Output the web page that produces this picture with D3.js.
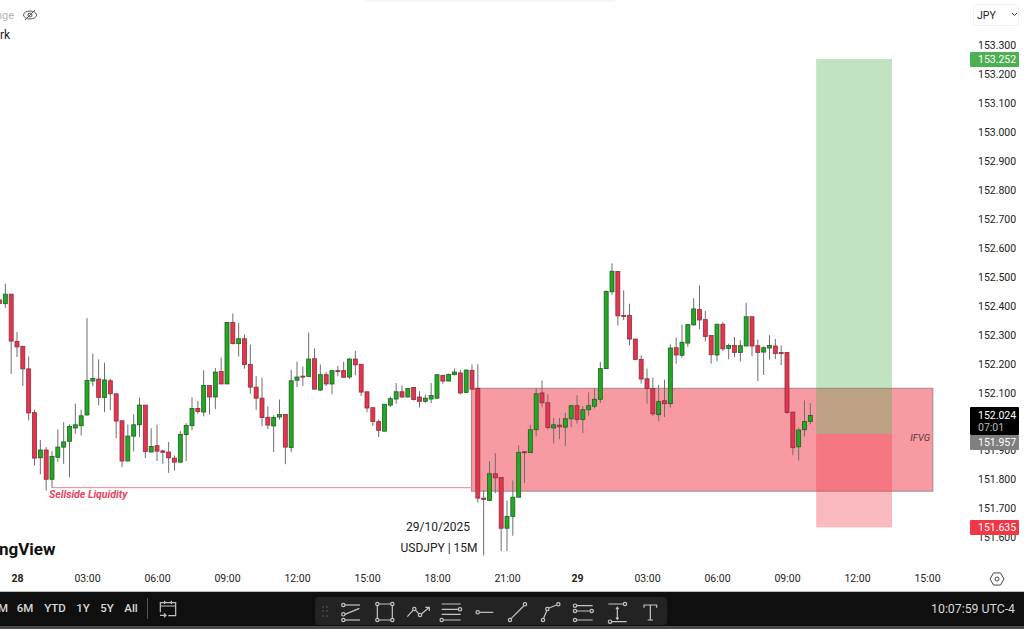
<!DOCTYPE html>
<html lang="en">
<head>
<meta charset="UTF-8">
<title>USDJPY 15M</title>
<script src="https://d3js.org/d3.v7.min.js"></script>
<style>
  html, body { margin: 0; padding: 0; background: #fff; overflow: hidden; }
  text { font-family: Roboto, "Open Sans", sans-serif; }
</style>
</head>
<body>
<div id="chart"></div>
<script>
// Bars start three bars before the "28" tick, one value per 15 minute bar
const firstBar = -3;
const opens = [
  152.420,152.407,152.440,152.277,152.260,152.182,152.031,151.875,151.902,151.801,
  151.877,151.912,151.932,151.978,151.986,152.023,152.140,152.147,152.083,152.141,
  152.096,152.003,151.864,151.950,151.989,152.057,151.895,151.917,151.899,151.895,
  151.874,151.860,151.955,151.986,152.045,152.033,152.125,152.085,152.173,152.130,
  152.342,152.269,152.286,152.197,152.119,152.081,152.015,151.985,152.016,152.025,
  151.911,152.143,152.157,152.156,152.217,152.109,152.162,152.130,152.176,152.176,
  152.154,152.216,152.198,152.103,152.048,152.000,151.967,152.057,152.078,152.103,
  152.085,152.118,152.085,152.070,152.078,152.081,152.160,152.140,152.162,152.168,
  152.101,152.177,152.115,151.736,151.728,151.820,151.807,151.632,151.673,151.739,
  151.896,151.893,151.972,152.099,152.065,151.978,151.988,151.981,152.010,152.055,
  152.007,152.041,152.053,152.077,152.183,152.448,152.518,152.366,152.366,152.285,
  152.215,152.148,152.114,152.024,152.072,152.062,152.255,152.229,152.271,152.334,
  152.387,152.352,152.297,152.230,152.336,152.253,152.263,152.239,152.261,152.362,
  152.262,152.240,152.254,152.261,152.239,152.239,152.033,151.913,151.972,152.001
];
const closes = [
  152.408,152.440,152.278,152.258,152.182,152.030,151.874,151.902,151.801,151.880,
  151.912,151.930,151.983,151.989,152.020,152.142,152.149,152.083,152.144,152.096,
  152.002,151.864,151.950,151.989,152.057,151.897,151.914,151.898,151.894,151.875,
  151.860,151.956,151.987,152.045,152.035,152.125,152.085,152.171,152.130,152.342,
  152.269,152.286,152.197,152.119,152.081,152.014,151.988,152.014,152.025,151.912,
  152.141,152.154,152.154,152.216,152.112,152.162,152.130,152.176,152.174,152.153,
  152.216,152.196,152.102,152.047,152.000,151.970,152.060,152.079,152.103,152.085,
  152.114,152.076,152.070,152.081,152.090,152.162,152.140,152.163,152.171,152.099,
  152.178,152.112,151.736,151.731,151.820,151.806,151.632,151.673,151.739,151.894,
  151.894,151.972,152.096,152.065,151.980,151.989,151.982,152.010,152.055,152.007,
  152.041,152.055,152.077,152.183,152.449,152.519,152.365,152.364,152.285,152.215,
  152.147,152.114,152.027,152.069,152.062,152.254,152.230,152.274,152.335,152.389,
  152.351,152.294,152.231,152.336,152.251,152.263,152.239,152.262,152.362,152.261,
  152.239,152.255,152.263,152.235,152.235,152.032,151.910,151.971,152.000,152.021
];
const highs = [
  152.425,152.476,152.440,152.309,152.260,152.225,152.041,151.937,151.912,151.898,
  151.973,151.998,151.990,152.062,152.041,152.357,152.235,152.215,152.203,152.148,
  152.096,152.003,151.990,152.025,152.083,152.057,151.977,151.989,151.903,151.930,
  151.883,151.967,151.995,152.084,152.071,152.177,152.125,152.185,152.221,152.344,
  152.373,152.340,152.301,152.266,152.157,152.152,152.053,152.022,152.076,152.025,
  152.179,152.207,152.191,152.307,152.253,152.197,152.171,152.176,152.193,152.207,
  152.219,152.244,152.198,152.103,152.048,152.007,152.060,152.087,152.133,152.125,
  152.114,152.118,152.105,152.093,152.133,152.162,152.160,152.166,152.183,152.179,
  152.180,152.197,152.198,151.764,151.863,151.891,151.807,151.728,151.797,151.918,
  151.898,151.989,152.114,152.142,152.094,152.013,152.012,152.031,152.055,152.091,
  152.053,152.101,152.114,152.206,152.453,152.546,152.518,152.453,152.407,152.285,
  152.229,152.183,152.152,152.127,152.145,152.267,152.290,152.335,152.335,152.426,
  152.470,152.382,152.297,152.338,152.343,152.269,152.292,152.281,152.410,152.362,
  152.283,152.260,152.298,152.285,152.263,152.239,152.033,151.979,152.073,152.064
];
const lows = [
  152.407,152.393,152.165,152.223,152.123,152.004,151.849,151.818,151.762,151.772,
  151.861,151.854,151.808,151.958,151.952,152.020,152.122,152.056,152.033,152.039,
  151.943,151.843,151.864,151.897,151.947,151.874,151.895,151.864,151.854,151.823,
  151.831,151.860,151.864,151.970,152.027,152.018,152.024,152.043,152.130,152.130,
  152.267,152.225,152.183,152.096,152.041,151.984,151.974,151.895,152.007,151.853,
  151.895,152.119,152.123,152.156,152.112,152.106,152.123,152.094,152.157,152.152,
  152.147,152.160,152.088,152.033,151.985,151.947,151.967,152.050,152.062,152.081,
  152.083,152.073,152.049,152.065,152.064,152.079,152.131,152.139,152.160,152.094,
  152.100,152.112,151.720,151.538,151.726,151.753,151.553,151.553,151.606,151.739,
  151.788,151.893,151.949,152.050,151.972,151.924,151.939,151.916,151.981,151.993,
  151.960,152.019,152.045,152.064,152.183,152.438,152.332,152.350,152.263,152.212,
  152.131,152.062,152.019,152.002,152.016,152.048,152.200,152.220,152.258,152.331,
  152.319,152.277,152.200,152.208,152.244,152.215,152.223,152.208,152.261,152.226,
  152.140,152.161,152.214,152.216,152.195,152.027,151.884,151.866,151.949,151.990
];

const priceTicks = [153.3,153.2,153.1,153.0,152.9,152.8,152.7,152.6,152.5,152.4,152.3,152.2,152.1,152.0,151.9,151.8,151.7,151.6];
const timeTicks = [0,12,24,36,48,60,72,84,96,108,120,132,144,156];
const timeLabels = ["28","03:00","06:00","09:00","12:00","15:00","18:00","21:00","29","03:00","06:00","09:00","12:00","15:00"];
const boldTimeLabels = ["28","29"];

// Drawings on the chart, prices and bar indexes
const zoneTop = 152.115, zoneBottom = 151.76, zoneStart = 77.9, zoneEnd = 157;
const entryPrice = 151.957, targetPrice = 153.252, stopPrice = 151.635;
const positionStart = 137, positionEnd = 150;
const liquidityPrice = 151.772, liquidityStart = 6, liquidityEnd = 78;
const lastPrice = 152.024;

const rangeButtons = ["M","6M","YTD","1Y","5Y","All"];
const rangeButtonX = [3,25,55,83,107,131];

const width = 1024, height = 629;
const svg = d3.select("#chart").append("svg")
  .attr("width", width).attr("height", height)
  .style("display", "block");

const x = d3.scaleLinear().domain([0, 156]).range([17, 927]);
const y = d3.scaleLinear().domain([151.6, 153.3]).range([537.5, 45]);

const bars = opens.map((o, i) => ({
  bar: firstBar + i, open: o, close: closes[i], high: highs[i], low: lows[i]
}));

// Faint shadow of the top popup
svg.append("rect").attr("x", 365).attr("y", 0).attr("width", 250).attr("height", 2).attr("fill", "#f6f6f6");

// Fib zone behind everything
svg.append("rect")
  .attr("x", x(zoneStart)).attr("y", y(zoneTop))
  .attr("width", x(zoneEnd) - x(zoneStart)).attr("height", y(zoneBottom) - y(zoneTop))
  .attr("fill", "rgba(242,54,69,0.5)")
  .attr("stroke", "#a8848a").attr("stroke-width", 1);

svg.append("line")
  .attr("x1", x(liquidityStart)).attr("x2", x(liquidityEnd))
  .attr("y1", y(liquidityPrice)).attr("y2", y(liquidityPrice))
  .attr("stroke", "#ee8796").attr("stroke-width", 1);

// Long position box
svg.append("rect")
  .attr("x", x(positionStart)).attr("y", y(targetPrice))
  .attr("width", x(positionEnd) - x(positionStart)).attr("height", y(entryPrice) - y(targetPrice))
  .attr("fill", "rgba(76,175,80,0.35)");
svg.append("rect")
  .attr("x", x(positionStart)).attr("y", y(entryPrice))
  .attr("width", x(positionEnd) - x(positionStart)).attr("height", y(stopPrice) - y(entryPrice))
  .attr("fill", "rgba(242,54,69,0.35)");

// Candles
const candle = svg.append("g").selectAll("g").data(bars).join("g");
candle.append("line")
  .attr("x1", d => x(d.bar)).attr("x2", d => x(d.bar))
  .attr("y1", d => y(d.high)).attr("y2", d => y(d.low))
  .attr("stroke", "#6e6e6e").attr("stroke-width", 1);
candle.append("rect")
  .attr("x", d => x(d.bar) - 2)
  .attr("y", d => y(Math.max(d.open, d.close)))
  .attr("width", 4)
  .attr("height", d => Math.max(1, Math.abs(y(d.open) - y(d.close))))
  .attr("fill", d => d.close >= d.open ? "#22a822" : "#e2364e")
  .attr("stroke", d => d.close >= d.open ? "#1d5f22" : "#8e2c3c")
  .attr("stroke-width", 0.8);

// Chart text
svg.append("text").attr("x", 49).attr("y", 498)
  .attr("font-size", 10.5).attr("font-weight", 700).attr("font-style", "italic")
  .attr("fill", "#e8455c").text("Sellside Liquidity");
svg.append("text").attr("x", 930).attr("y", 441).attr("text-anchor", "end")
  .attr("font-size", 9.5).attr("font-style", "italic").attr("fill", "#5a3238").text("IFVG");
svg.append("text").attr("x", 438).attr("y", 531).attr("text-anchor", "middle")
  .attr("font-size", 12).attr("fill", "#222").text("29/10/2025");
svg.append("text").attr("x", 439).attr("y", 552).attr("text-anchor", "middle")
  .attr("font-size", 12).attr("fill", "#222").text("USDJPY | 15M");
svg.append("text").attr("x", -1).attr("y", 555)
  .attr("font-size", 17).attr("font-weight", 700).attr("fill", "#111").text("ngView");
svg.append("text").attr("x", 14).attr("y", 19).attr("text-anchor", "end")
  .attr("font-size", 11).attr("fill", "#b5b5b5").text("nge");
svg.append("text").attr("x", 0).attr("y", 39)
  .attr("font-size", 12).attr("fill", "#222").text("rk");

// Hidden eye icon
const eye = svg.append("g").attr("fill", "none").attr("stroke", "#555").attr("stroke-width", 1);
eye.append("ellipse").attr("cx", 30).attr("cy", 15).attr("rx", 6.5).attr("ry", 4);
eye.append("circle").attr("cx", 30).attr("cy", 15).attr("r", 2);
eye.append("line").attr("x1", 25).attr("y1", 20).attr("x2", 35).attr("y2", 10);

// Price axis
const yAxis = svg.append("g")
  .attr("transform", "translate(975,0)")
  .call(d3.axisRight(y).tickValues(priceTicks).tickFormat(d3.format(".3f")).tickSize(0));
yAxis.select(".domain").remove();
yAxis.selectAll("text").attr("font-size", 10.5).attr("font-family", "Roboto").attr("fill", "#222").attr("x", 3);

// Time axis
const xAxis = svg.append("g")
  .attr("transform", "translate(0,572)")
  .call(d3.axisBottom(x).tickValues(timeTicks).tickFormat((d, i) => timeLabels[i]).tickSize(0));
xAxis.select(".domain").remove();
xAxis.selectAll("text")
  .attr("font-size", 10.5).attr("font-family", "Roboto").attr("fill", "#222")
  .attr("font-weight", (d, i) => boldTimeLabels.includes(timeLabels[i]) ? 700 : 400);

// Price labels on the axis
const labelBox = (price, top, h, fill) => {
  svg.append("rect").attr("x", 970).attr("y", top).attr("width", 49).attr("height", h)
    .attr("rx", 1).attr("fill", fill);
  svg.append("text").attr("x", 978).attr("y", top + 11)
    .attr("font-size", 10.5).attr("fill", "#fff").text(d3.format(".3f")(price));
};
labelBox(targetPrice, 52, 15, "#4caf50");
svg.append("rect").attr("x", 970).attr("y", 407).attr("width", 49).attr("height", 28).attr("rx", 1).attr("fill", "#000");
svg.append("text").attr("x", 978).attr("y", 419).attr("font-size", 10.5).attr("fill", "#fff").text(d3.format(".3f")(lastPrice));
svg.append("text").attr("x", 978).attr("y", 431).attr("font-size", 10.5).attr("fill", "#bbb").text("07:01");
labelBox(entryPrice, 435, 15, "#808080");
labelBox(stopPrice, 520, 15, "#f23645");

// Currency button
svg.append("rect").attr("x", 973.5).attr("y", 4.5).attr("width", 45).attr("height", 21).attr("rx", 3)
  .attr("fill", "#fff").attr("stroke", "#f0f0f0");
svg.append("text").attr("x", 977).attr("y", 19).attr("font-size", 10.5).attr("fill", "#222").text("JPY");
svg.append("path").attr("d", "M1012 13l2.5 2.5l2.5-2.5").attr("fill", "none").attr("stroke", "#333");

// Settings icon on the time axis
const hex = d3.range(6).map(i => [997 + 7 * Math.cos(i * Math.PI / 3), 579 + 7 * Math.sin(i * Math.PI / 3)]);
svg.append("polygon").attr("points", hex.join(" ")).attr("fill", "none").attr("stroke", "#444");
svg.append("circle").attr("cx", 997).attr("cy", 579).attr("r", 2).attr("fill", "none").attr("stroke", "#444");

// Bottom bar
svg.append("rect").attr("x", 0).attr("y", 591).attr("width", width).attr("height", 1).attr("fill", "#bdbdbd");
svg.append("rect").attr("x", 0).attr("y", 592).attr("width", width).attr("height", 34).attr("fill", "#0f0f0f");
svg.append("rect").attr("x", 0).attr("y", 626).attr("width", width).attr("height", 3).attr("fill", "#4a4a4a");

svg.selectAll(".range").data(rangeButtons).join("text")
  .attr("class", "range")
  .attr("x", (d, i) => rangeButtonX[i]).attr("y", 612)
  .attr("text-anchor", "middle").attr("font-size", 11.5).attr("font-weight", 500).attr("fill", "#d8d8d8")
  .text(d => d);
svg.append("rect").attr("x", 147).attr("y", 598).attr("width", 1).attr("height", 21).attr("fill", "#555");
svg.append("text").attr("x", 1015).attr("y", 613).attr("text-anchor", "end")
  .attr("font-size", 12.3).attr("fill", "#d8d8d8").text("10:07:59 UTC-4");

svg.append("rect").attr("x", 315).attr("y", 597).attr("width", 352).attr("height", 28).attr("rx", 4).attr("fill", "#232323");

// Toolbar and calendar icons, drawn at 3x and scaled down
const drawIcons = (tx, ty, lines, circles, stroke) => {
  const g = svg.append("g").attr("transform", `translate(${tx},${ty}) scale(${1 / 3})`)
    .attr("fill", "none").attr("stroke", stroke).attr("stroke-width", 3.6);
  lines.forEach(p => g.append("path").attr("d", p));
  circles.forEach(c => g.append("circle").attr("cx", c[0]).attr("cy", c[1]).attr("r", 5));
};
drawIcons(300, 560, [
  "M135 135H180", "M135 163L178 145", "M135 180H180",
  "M237 132H272M232 137V175M277 137V175M237 180H272",
  "M322 170L339 151M347 151L356 161M365 161L388 142M376 142H388V153",
  "M425 132H482M425 148H474M425 163H482M431 180H482",
  "M539 157H580",
  "M634 175L671 138",
  "M731 174L740 153M747 144L770 135",
  "M831 137H878M831 153H869M831 180H878",
  "M925 132H969M936 185H980M952 142V178M948 147L952 142L956 147M948 173L952 178L956 173",
  "M1032 143V135H1070V143M1051 135V180M1043 180H1059"
], [
  [130,135],[130,163],[130,180],
  [232,132],[277,132],[232,180],[277,180],
  [343,147],[360,165],
  [480,148],[425,180],
  [533,157],
  [630,180],[675,133],
  [729,180],[742,147],[775,133],
  [825,137],[825,153],[825,180],[875,153],
  [975,132],[930,185]
], "#c4c4c4");
drawIcons(0, 560, [
  "M481 157V128H527V167H505M481 138H527M494 122V132M514 122V132M480 166H498M492 160L498 166L492 172"
], [], "#c4c4c4");

// Drag handle dots of the toolbar
svg.selectAll(".dot").data(d3.cross([323, 327], [607, 611, 616])).join("circle")
  .attr("class", "dot").attr("cx", d => d[0]).attr("cy", d => d[1]).attr("r", 0.8).attr("fill", "#666");
</script>
</body>
</html>
